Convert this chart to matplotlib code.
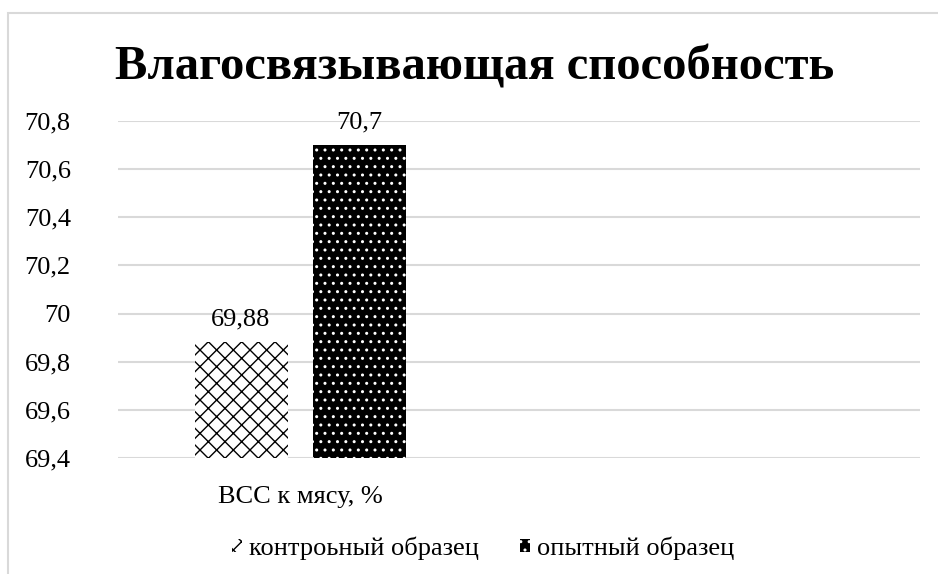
import matplotlib.pyplot as plt
import matplotlib.patches as mpatches
import matplotlib as mpl

plt.rcParams['font.family'] = ['Liberation Serif', 'DejaVu Serif']
mpl.rcParams['hatch.linewidth'] = 1.0

# data
category = "ВСС к мясу, %"
series_names = ["контроьный образец", "опытный образец"]
values = [69.88, 70.7]
value_labels = ["69,88", "70,7"]
yticks = [69.4, 69.6, 69.8, 70.0, 70.2, 70.4, 70.6, 70.8]
ytick_labels = ["69,4", "69,6", "69,8", "70", "70,2", "70,4", "70,6", "70,8"]

fig = plt.figure(figsize=(9.38, 5.74), dpi=100)
ax = fig.add_axes([118 / 938, 1 - 458 / 574, (920 - 118) / 938, (458 - 121) / 574])

# outer chart border (light gray), clipped by the image edges
border = mpatches.Rectangle((8 / 938, -0.1), 1.0, 1 - 13 / 574 + 0.1, transform=fig.transFigure,
                            fill=False, edgecolor='#d9d9d9', linewidth=1.5, clip_on=False)
fig.patches.append(border)

width = 0.4
offsets = [-0.2538, 0.2538]
base = 69.4
fs = 19

# control: white bar with diagonal lattice hatch
b1 = ax.bar(offsets[0], values[0] - base, width, bottom=base, color='white',
            edgecolor='black', hatch='xx', linewidth=0, label=series_names[0], zorder=3)
# experimental: black bar with white dots
b2 = ax.bar(offsets[1], values[1] - base, width, bottom=base, color='black',
            edgecolor='white', hatch='..', linewidth=0, label=series_names[1], zorder=3)

for x, v, t in zip(offsets, values, value_labels):
    ax.annotate(t, (x, v), xytext=(0, 12), textcoords='offset points',
                ha='center', va='baseline', fontsize=fs)

ax.set_ylim(69.4, 70.8)
ax.set_xlim(-0.783, 2.667)
ax.set_yticks(yticks)
ax.set_yticklabels(ytick_labels, fontsize=fs)
ax.set_xticks([0])
ax.set_xticklabels([category], fontsize=fs)
ax.tick_params(length=0, axis='y', pad=34)
ax.tick_params(length=0, axis='x', pad=20)
ax.yaxis.grid(True, color='#d9d9d9', linewidth=1.5, zorder=0)
ax.set_axisbelow(True)
for s in ax.spines.values():
    s.set_visible(False)

fig.text(475 / 938, 1 - 68 / 574, "Влагосвязывающая способность", ha='center', va='center',
         fontsize=35, fontweight='bold')

fig.legend(handles=[b1, b2], loc='center', bbox_to_anchor=(483 / 938, 1 - 548 / 574),
           ncol=2, frameon=False, fontsize=fs, handlelength=0.4, handleheight=0.4,
           handletextpad=0.25, columnspacing=1.55)

fig.savefig('out.png', dpi=100)
